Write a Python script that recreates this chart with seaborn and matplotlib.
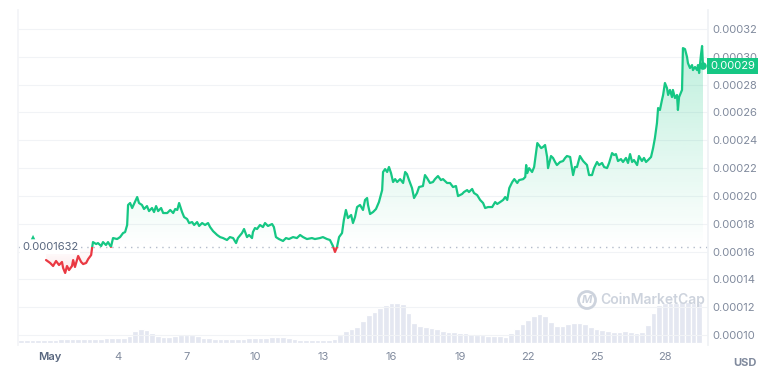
import numpy as np
import matplotlib
matplotlib.use("Agg")
import matplotlib.pyplot as plt
import seaborn as sns
from matplotlib.path import Path
from matplotlib.patches import Rectangle, Circle
import matplotlib.transforms as mtransforms
from matplotlib.colors import to_rgb

# ---------------- data (day of May, price) ----------------
day = [0.84,1.02,1.15,1.28,1.41,1.54,1.59,1.68,1.76,1.85,1.98,2.03,2.11,2.25,2.38,2.47,2.60,2.69,2.82,2.86,
       2.90,3.04,3.12,3.26,3.34,3.47,3.56,3.69,3.78,3.96,4.09,4.22,4.31,4.40,4.44,4.53,4.62,4.70,4.84,4.92,
       5.05,5.14,5.27,5.36,5.49,5.58,5.67,5.76,5.89,5.98,6.16,6.29,6.42,6.51,6.60,6.68,6.81,6.90,7.03,7.12,
       7.25,7.34,7.47,7.56,7.69,7.82,7.95,
       8.04,8.17,8.35,8.48,8.61,8.78,8.91,9.05,9.18,9.26,9.44,9.53,9.66,9.75,9.88,9.92,10.01,10.10,10.23,10.36,
       10.45,10.58,10.76,10.84,10.93,11.06,11.24,11.37,11.50,11.68,11.85,11.99,12.12,12.29,12.51,12.64,12.86,12.99,13.17,13.30,
       13.43,13.52,13.61,13.70,13.83,13.91,14.00,14.09,14.23,14.31,14.40,14.49,14.62,14.75,14.84,14.93,14.97,
       15.06,15.19,15.32,15.45,15.59,15.63,15.72,15.81,15.89,15.98,16.07,16.16,16.25,16.38,16.51,16.60,16.68,16.77,16.90,16.99,
       17.12,17.21,17.38,17.47,17.56,17.69,17.82,17.91,18.04,18.17,18.26,18.44,18.57,18.70,18.83,18.92,19.10,19.18,19.32,19.40,
       19.54,19.62,19.76,19.89,20.02,20.11,20.24,20.42,20.55,20.64,20.77,20.90,20.99,21.08,21.17,21.30,21.39,21.52,21.60,21.78,
       21.87,21.91,21.96,22.04,22.17,22.26,22.40,
       22.57,22.65,22.74,22.83,22.87,23.00,23.09,23.18,23.26,23.40,23.53,23.62,23.70,23.84,23.97,24.05,24.14,24.27,24.41,24.49,
       24.58,24.67,24.80,24.89,25.02,25.11,25.24,25.33,25.46,25.55,25.68,25.77,25.85,25.94,26.07,26.16,26.29,26.38,26.47,26.56,
       26.64,26.78,26.86,26.99,27.08,27.17,27.26,27.39,27.48,27.56,27.65,27.70,27.78,27.87,27.92,28.00,28.09,28.14,28.22,28.31,
       28.35,28.44,28.53,28.57,28.62,28.75,28.79,28.88,28.97,29.01,29.10,29.19,29.23,29.32,29.41,29.45,29.50,29.58,29.63,29.67]

price_e4 = [1.539,1.518,1.496,1.532,1.503,1.525,1.482,1.446,1.496,1.467,1.496,1.539,1.489,1.568,1.525,1.510,1.518,1.546,1.575,1.625,
            1.668,1.654,1.661,1.640,1.668,1.647,1.668,1.633,1.697,1.690,1.704,1.733,1.740,1.791,1.935,1.949,1.913,1.942,1.992,1.949,
            1.935,1.906,1.927,1.891,1.913,1.884,1.927,1.891,1.913,1.877,1.877,1.899,1.877,1.906,1.899,1.949,1.884,1.848,1.834,1.805,
            1.812,1.791,1.812,1.784,1.805,1.791,1.805,
            1.776,1.747,1.719,1.704,1.697,1.683,1.704,1.697,1.661,1.697,1.733,1.762,1.704,1.719,1.697,1.740,1.769,1.762,1.791,1.776,
            1.805,1.784,1.798,1.776,1.704,1.690,1.676,1.697,1.690,1.704,1.697,1.719,1.704,1.690,1.697,1.690,1.697,1.704,1.690,1.683,
            1.640,1.597,1.633,1.704,1.733,1.827,1.899,1.841,1.863,1.805,1.848,1.920,1.935,1.899,1.971,1.985,1.935,
            1.870,1.884,1.906,1.956,2.042,2.172,2.193,2.172,2.208,2.164,2.100,2.121,2.100,2.121,2.093,2.172,2.157,2.114,2.057,1.985,
            2.021,2.064,2.071,2.150,2.129,2.093,2.100,2.121,2.143,2.114,2.121,2.093,2.093,2.064,2.071,1.999,2.014,2.028,2.042,2.028,
            2.050,2.021,2.006,1.971,1.949,1.913,1.920,1.920,1.956,1.942,1.956,1.971,1.992,1.971,2.057,2.100,2.121,2.093,2.114,2.121,
            2.136,2.222,2.164,2.200,2.172,2.208,2.380,
            2.344,2.352,2.366,2.280,2.200,2.287,2.273,2.244,2.222,2.244,2.251,2.273,2.287,2.280,2.150,2.208,2.208,2.287,2.251,2.237,
            2.222,2.150,2.150,2.200,2.244,2.222,2.237,2.208,2.200,2.237,2.308,2.294,2.301,2.251,2.265,2.244,2.273,2.237,2.301,2.244,
            2.258,2.222,2.287,2.251,2.273,2.244,2.258,2.280,2.344,2.416,2.524,2.632,2.618,2.690,2.726,2.812,2.776,2.726,2.762,2.711,
            2.762,2.704,2.726,2.618,2.711,2.762,3.063,3.056,2.999,2.955,2.920,2.941,2.905,2.927,2.905,2.941,2.884,3.013,3.078,2.934]

vol_day = np.arange(-0.25, 29.51, 0.25)
volume_rel = [3,3,3,3, 3,3,3,4,4,4,4,4,4,4, 4,5,5,5,5,7,12,14,13,10, 7,6,6,7,8,8,8,7,5,5,
              4,4,4,4,4,4,5,5,5,5, 6,6,6,5,4,3,3,3,3,3, 3,4,8,12,14,16,22,28,31,35,
              38,40,40,39,30,20,17,16,15,14, 12,11,11,10,10,9,8,8,7,7, 7,6,10,14,19,23,27,29,27,21,
              17,17,19,20,20,19,16,14,13,12, 11,11,12,11,10,11,18,30,38,40, 40,40,41,41,40,40]

baseline = 0.0001632
baseline_label = "0.0001632"
last_label = "0.00029"
marker_day, marker_price = 0.27, 0.0001704

x_ticks = [1, 4, 7, 10, 13, 16, 19, 22, 25, 28]
x_labels = ["May", "4", "7", "10", "13", "16", "19", "22", "25", "28"]
y_ticks = [0.00010, 0.00012, 0.00014, 0.00016, 0.00018, 0.00020,
           0.00022, 0.00024, 0.00026, 0.00028, 0.00030, 0.00032]
y_labels = ["%.5f" % v for v in y_ticks]

assert len(day) == len(price_e4)
assert len(vol_day) == len(volume_rel)
price = np.array(price_e4) * 1e-4
day = np.array(day)

# ---------------- style ----------------
sns.set_theme(style="white")
plt.rcParams["font.family"] = ["Inter", "DejaVu Sans"]

GREEN = "#16c784"
RED = "#ea3943"
GREY = "#808a9d"

XMIN, XMAX = -0.39, 29.89
YMIN, YMAX = 0.0000928, 0.0003337

fig = plt.figure(figsize=(7.68, 3.79), dpi=100)
fig.patch.set_facecolor("white")
ax = fig.add_axes([18 / 768, 34 / 379, 690 / 768, 335 / 379])

# volume on twin axis behind price
axv = ax.twinx()
axv.set_zorder(ax.get_zorder() - 1)
ax.patch.set_visible(False)
axv.bar(vol_day, volume_rel, width=0.25, color="#e4e7f1", edgecolor="white", linewidth=0.9, align="center")
axv.set_ylim(-2, 333)
axv.set_yticks([])
for s in axv.spines.values():
    s.set_visible(False)

# grid lines
for v in y_ticks:
    ax.axhline(v, color="#f1f3f6", lw=0.8, zorder=0)

# gradient fill
poly = ax.fill_between(day, price, baseline, color="none", lw=0)
clip = Path.make_compound_path(*poly.get_paths())
g = np.zeros((256, 1, 4))
g[..., :3] = to_rgb(GREEN)
g[:, 0, 3] = np.linspace(0.28, 0.0, 256)
im = ax.imshow(g, extent=[XMIN, XMAX, baseline, price.max()], aspect="auto",
               origin="upper", zorder=1, interpolation="bilinear")
im.set_clip_path(clip, transform=ax.transData)
r = np.zeros((256, 1, 4))
r[..., :3] = to_rgb(RED)
r[:, 0, 3] = np.linspace(0.0, 0.12, 256)
im2 = ax.imshow(r, extent=[XMIN, XMAX, price.min(), baseline], aspect="auto",
                origin="upper", zorder=1, interpolation="bilinear")
im2.set_clip_path(clip, transform=ax.transData)

# baseline dotted
ax.axhline(baseline, color="#b4bccb", lw=1.0, ls=(0, (1, 3.5)), zorder=2)

# price line (green above baseline, red below)
sns.lineplot(x=day, y=price, ax=ax, color=GREEN, lw=1.6, zorder=3, sort=False)
gline = ax.lines[-1]
gline.set_clip_path(Rectangle((XMIN - 5, baseline), 100, 1, transform=ax.transData))
sns.lineplot(x=day, y=price, ax=ax, color=RED, lw=1.6, zorder=3, sort=False)
rline = ax.lines[-1]
rline.set_clip_path(Rectangle((XMIN - 5, baseline - 1), 100, 1, transform=ax.transData))

# end dot
ax.scatter([day[-1]], [price[-1]], s=30, color=GREEN, zorder=4, edgecolor="none")
# small marker near start
ax.scatter([marker_day], [marker_price], s=10, marker="^", color=GREEN, zorder=4, edgecolor="none")

ax.set_xlim(XMIN, XMAX)
ax.set_ylim(YMIN, YMAX)

# ticks
ax.yaxis.tick_right()
ax.set_yticks(y_ticks)
ax.set_yticklabels(y_labels)
ax.tick_params(axis="y", length=0, pad=3.5, labelsize=8, labelcolor=GREY)
ax.set_xticks(x_ticks)
ax.set_xticklabels(x_labels)
ax.tick_params(axis="x", length=0, pad=5, labelsize=8, labelcolor=GREY)
ax.get_xticklabels()[0].set_color("#58667e")
ax.get_xticklabels()[0].set_fontweight("semibold")
for k, s in ax.spines.items():
    s.set_visible(False)
ax.spines["right"].set_visible(True)
ax.spines["right"].set_color("#eff2f5")
ax.spines["left"].set_visible(True)
ax.spines["left"].set_color("#f3f4f7")
ax.set_xlabel("")
ax.set_ylabel("")

# baseline label
trans = mtransforms.blended_transform_factory(ax.transAxes, ax.transData)
ax.text(0.006, baseline, baseline_label, transform=trans, ha="left", va="center",
        fontsize=8, color="#58667e", zorder=5,
        bbox=dict(boxstyle="square,pad=0.15", fc="white", ec="none"))

# current price tag (covers the 0.00030 tick label as in the original)
ax.text(1.003, price[-1], last_label, transform=trans, ha="left", va="center",
        fontsize=8, color="white", zorder=6, clip_on=False,
        bbox=dict(boxstyle="square,pad=0.3", fc=GREEN, ec="none"))

# USD
fig.text(745 / 768, 1 - 363 / 379, "USD", ha="center", va="center",
         fontsize=8, color=GREY, fontweight="bold")

# watermark
wm = "#cdd3dd"
fig.add_artist(Circle((5.87, 0.79), 0.085, transform=fig.dpi_scale_trans,
                      fill=False, ec=wm, lw=2.0))
fig.text(587 / 768, 1 - 300 / 379, "M", ha="center", va="center", fontsize=8,
         color=wm, fontweight="bold", style="italic")
fig.text(600 / 768, 1 - 300 / 379, "CoinMarketCap", ha="left", va="center",
         fontsize=10, color=wm, fontweight="semibold")

fig.savefig("out.png", dpi=100, facecolor="white")
